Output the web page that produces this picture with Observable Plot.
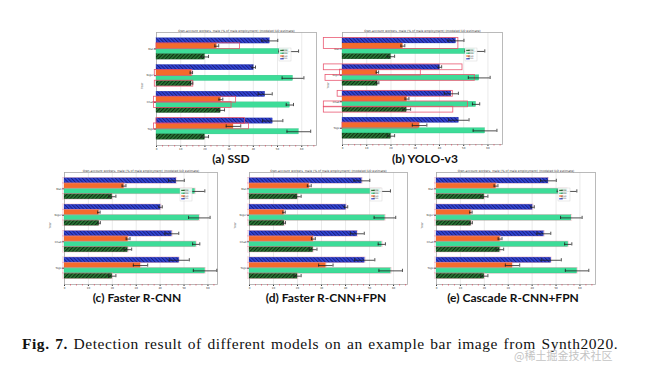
<!DOCTYPE html>
<html><head><meta charset="utf-8">
<script src="https://cdn.jsdelivr.net/npm/d3@7"></script>
<script src="https://cdn.jsdelivr.net/npm/@observablehq/plot@0.6"></script>
<style>
body{margin:0;background:#fff;}
#fig{position:relative;width:646px;height:372px;overflow:hidden;background:#fff;}
.panel{position:absolute;}
.lab{position:absolute;font-family:Lato,"Open Sans",sans-serif;font-weight:700;font-size:12px;line-height:12px;color:#111;transform:translateX(-50%);white-space:nowrap;}
#cap{position:absolute;left:22px;top:336px;font-family:"Liberation Serif",serif;font-size:15.5px;line-height:16px;letter-spacing:0.55px;word-spacing:1.2px;color:#111;white-space:nowrap;}
#wm{position:absolute;left:514px;top:349px;font-family:"Noto Sans CJK SC",sans-serif;font-size:11px;line-height:12px;color:#c4c4c4;white-space:nowrap;}
</style>
</head><body>
<svg width="0" height="0" style="position:absolute">
<defs>
<pattern id="hBlue" patternUnits="userSpaceOnUse" width="2.6" height="2.6" patternTransform="rotate(-45)">
<rect width="2.6" height="2.6" fill="#3347d9"/>
<line x1="0.5" y1="0" x2="0.5" y2="2.6" stroke="#1a1f80" stroke-width="1.1"/>
</pattern>
<pattern id="hGreen" patternUnits="userSpaceOnUse" width="2.6" height="2.6" patternTransform="rotate(45)">
<rect width="2.6" height="2.6" fill="#2a7a36"/>
<line x1="0.5" y1="0" x2="0.5" y2="2.6" stroke="#0e2e14" stroke-width="1.1"/>
</pattern>
</defs>
</svg>
<div id="fig"></div>
<script>
// ---------- data ----------
const groupLabels = ["Mali", "Niger", "Chad", "Togo"];
const legendLabels = ["2008", "2009", "2010", "2011"]; // dark green, green, orange, blue
const chartTitle = "Own-account workers, male (% of male employment) (modeled ILO estimate)";
const xTicks = [0, 10, 20, 30, 40, 50, 60];
const minorTicks = [2.5, 5, 7.5, 12.5, 15, 17.5, 22.5, 25, 27.5, 32.5, 35, 37.5, 42.5, 45, 47.5, 52.5, 55, 57.5, 62.5, 65];

// bar values per series (groups top to bottom)
const blueVals = [46.8, 40.2, 44.9, 48.0];
const blueErr = [3.3, 0.7, 2.9, 4.2];
const orangeVals = [24.9, 14.4, 26.6, 31.8];
const orangeErr = [0.8, 0.5, 0.8, 3.0];
const greenVals = [54.6, 56.4, 55.1, 58.8];
const greenErr = [4.1, 4.5, 1.5, 4.9];
const dkVals = [20.0, 14.5, 26.5, 20.0];
const dkErr = [1.5, 0.5, 1.6, 1.5];

// detection boxes: [group, firstRow, lastRow, x1, x2]
const ssdBoxes = [
  [0, 1, 1, 0, 34.5],
  [1, 1, 1, -0.7, 14.8],
  [1, 3, 3, -0.7, 15.2],
  [2, 1, 1, -1, 32.9],
  [2, 2, 2, -1, 31.0],
  [3, 0, 0, 0, 36.5],
  [3, 1, 1, -1, 38.2]
];
const yoloBoxes = [
  [0, 0, 1, -7.7, 47.8],
  [1, 0, 0, -7.7, 49.5],
  [1, 1, 1, -1, 32.3],
  [1, 2, 2, -7.0, 54.6],
  [2, 0, 0, -2, 45.5],
  [2, 2, 2, -7.7, 51.8],
  [2, 3, 3, -7.7, 45.7],
  [3, 1, 1, 0, 31.0]
];

const series = [
  {vals: blueVals, err: blueErr, fill: "url(#hBlue)", edge: "#2a37b0"},
  {vals: orangeVals, err: orangeErr, fill: "#f46a2c", edge: "#d9561d"},
  {vals: greenVals, err: greenErr, fill: "#3ddc98", edge: "#2cb57c"},
  {vals: dkVals, err: dkErr, fill: "url(#hGreen)", edge: "#174d22"}
];
const legendColors = ["#2a7a36", "#3ddc98", "#f46a2c", "#3347d9"];

const bars = [];
series.forEach((s, si) => s.vals.forEach((v, gi) => bars.push({gi, si, v, e: s.err[gi]})));
const exactBoxes = bars.map(b => [b.gi, b.si, b.si, -0.6, b.v + 0.4]);

const panels = [
  {label: "(a) SSD", L: 156, R: 316, T: 32, B: 145, xmax: 66.1, boxes: ssdBoxes, bc: "#e8506a", bo: 0.95, bw: 0.8, lx: 231, ly: 153},
  {label: "(b) YOLO-v3", L: 342, R: 502, T: 32, B: 144, xmax: 66, boxes: yoloBoxes, bc: "#e8506a", bo: 0.95, bw: 0.8, lx: 425, ly: 153},
  {label: "(c) Faster R-CNN", L: 64, R: 217, T: 172, B: 284, xmax: 64, boxes: exactBoxes, bc: "#ef8fa5", bo: 0.55, bw: 0.5, lx: 137, ly: 292},
  {label: "(d) Faster R-CNN+FPN", L: 249, R: 407, T: 172, B: 284, xmax: 65.8, boxes: exactBoxes, bc: "#ef8fa5", bo: 0.55, bw: 0.5, lx: 326, ly: 292},
  {label: "(e) Cascade R-CNN+FPN", L: 436, R: 595, T: 172, B: 284, xmax: 66.5, boxes: exactBoxes, bc: "#ef8fa5", bo: 0.55, bw: 0.5, lx: 513, ly: 292}
];

const ML = 28, MR = 8, MT = 10, MB = 10;
const fig = document.getElementById("fig");

function makePanel(cfg) {
  const fw = cfg.R - cfg.L, fh = cfg.B - cfg.T;
  const W = fw + ML + MR, H = fh + MT + MB;
  const y0 = -0.615, y1 = 3.615;
  const marks = [
    Plot.frame({stroke: "#aaa", strokeWidth: 0.8}),
    ...series.map((s, si) => Plot.rect(bars.filter(b => b.si === si), {
      x1: 0, x2: "v",
      y1: d => d.gi - 0.4 + si * 0.2, y2: d => d.gi - 0.2 + si * 0.2,
      fill: s.fill, stroke: s.edge, strokeWidth: 0.3
    })),
    Plot.rect(cfg.boxes, {
      x1: d => d[3], x2: d => d[4],
      y1: d => d[0] - 0.41 + d[1] * 0.2, y2: d => d[0] - 0.19 + d[2] * 0.2,
      fill: "none", stroke: cfg.bc, strokeOpacity: cfg.bo, strokeWidth: cfg.bw
    }),
    Plot.ruleY(bars, {y: d => d.gi - 0.3 + d.si * 0.2, x1: d => d.v - d.e, x2: d => d.v + d.e, stroke: "#222", strokeWidth: 0.8}),
    Plot.ruleX(bars, {x: d => d.v - d.e, y1: d => d.gi - 0.36 + d.si * 0.2, y2: d => d.gi - 0.24 + d.si * 0.2, stroke: "#222", strokeWidth: 0.8}),
    Plot.ruleX(bars, {x: d => d.v + d.e, y1: d => d.gi - 0.36 + d.si * 0.2, y2: d => d.gi - 0.24 + d.si * 0.2, stroke: "#222", strokeWidth: 0.8}),
    Plot.ruleX(minorTicks.filter(t => t < cfg.xmax), {x: d => d, y1: y1, y2: y1 + 0.06, stroke: "#e03a50", strokeWidth: 0.6}),
    Plot.text([chartTitle], {frameAnchor: "top", dy: -3, fontSize: 3, fill: "#333"}),
    Plot.text(["Year"], {frameAnchor: "left", dx: -14, rotate: -90, fontSize: 3, fill: "#555"})
  ];
  const plot = Plot.plot({
    width: W, height: H,
    marginLeft: ML, marginRight: MR, marginTop: MT, marginBottom: MB,
    x: {domain: [0, cfg.xmax], ticks: xTicks, tickSize: 2, tickPadding: 0.5, grid: true, label: null},
    y: {domain: [y0, y1], reverse: true, ticks: [0, 1, 2, 3], tickFormat: i => groupLabels[i], tickSize: 2, tickPadding: 1, label: null},
    style: {fontSize: "2.6px", fontFamily: "DejaVu Sans, sans-serif", background: "transparent", overflow: "visible", color: "#333"},
    marks
  });
  // legend
  const svg = d3.select(plot);
  const lw = 12, lh = 13;
  const lx = ML + fw - 25 - lw, ly = MT + 16;
  const g = svg.append("g");
  g.append("rect").attr("x", lx).attr("y", ly).attr("width", lw).attr("height", lh)
    .attr("fill", "#fff").attr("fill-opacity", 0.85).attr("stroke", "#ccc").attr("stroke-width", 0.4);
  legendLabels.forEach((t, i) => {
    g.append("rect").attr("x", lx + 1.2).attr("y", ly + 1.8 + i * 2.8).attr("width", 3.5).attr("height", 1.2).attr("fill", legendColors[i]);
    g.append("text").attr("x", lx + 5.5).attr("y", ly + 3 + i * 2.8).attr("font-size", 2.2).attr("fill", "#333").text(t);
  });
  plot.classList.add("panel");
  plot.style.left = (cfg.L - ML) + "px";
  plot.style.top = (cfg.T - MT) + "px";
  fig.appendChild(plot);
  const lab = document.createElement("div");
  lab.className = "lab";
  lab.textContent = cfg.label;
  lab.style.left = cfg.lx + "px";
  lab.style.top = cfg.ly + "px";
  fig.appendChild(lab);
}
panels.forEach(makePanel);

const cap = document.createElement("div");
cap.id = "cap";
cap.innerHTML = "<b>Fig. 7.</b> Detection result of different models on an example bar image from Synth2020.";
fig.appendChild(cap);
const wm = document.createElement("div");
wm.id = "wm";
wm.textContent = "@稀土掘金技术社区";
fig.appendChild(wm);
</script>
</body></html>
